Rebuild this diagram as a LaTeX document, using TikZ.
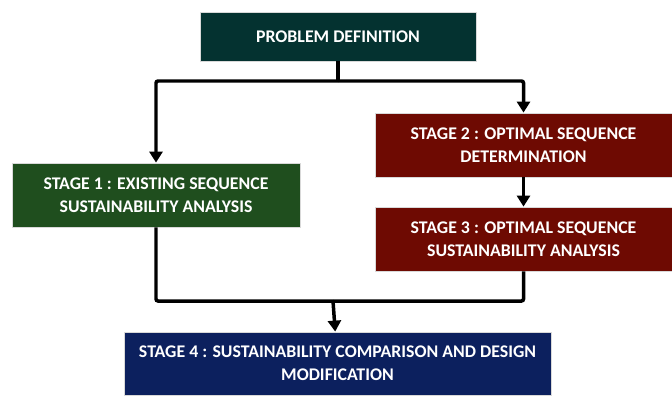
\documentclass[tikz,border=0pt]{standalone}
\usepackage{fontspec}
\setmainfont{Carlito}
\usetikzlibrary{arrows.meta}
\definecolor{probcol}{RGB}{4,50,48}
\definecolor{greencol}{RGB}{31,78,30}
\definecolor{redcol}{RGB}{110,10,2}
\definecolor{bluecol}{RGB}{12,32,94}
\tikzset{
  stagebox/.style={draw=black!15, line width=0.8, text=white, align=center,
    font=\fontsize{17.8bp}{23bp}\selectfont\bfseries, inner sep=0},
  link/.style={line width=3.5, rounded corners=2},
}

\begin{document}
\begin{tikzpicture}[x=1bp,y=-1bp,>={Triangle[length=11bp,width=13bp]}]
\useasboundingbox (0,0) rectangle (672,396);
\node [stagebox, fill=probcol, minimum width=276bp, minimum height=49bp] (prob) at (338,36.5) {PROBLEM DEFINITION};
\node [stagebox, fill=greencol, minimum width=288bp, minimum height=64bp] (stageone) at (156,195) {STAGE 1 : EXISTING SEQUENCE\\SUSTAINABILITY ANALYSIS};
\node [stagebox, fill=redcol, minimum width=297bp, minimum height=64bp] (stagetwo) at (523.5,145) {STAGE 2 : OPTIMAL SEQUENCE\\DETERMINATION};
\node [stagebox, fill=redcol, minimum width=297bp, minimum height=64bp] (stagethree) at (523.5,239) {STAGE 3 : OPTIMAL SEQUENCE\\SUSTAINABILITY ANALYSIS};
\node [stagebox, fill=bluecol, minimum width=427bp, minimum height=63bp] (stagefour) at (337.5,363.5) {STAGE 4 : SUSTAINABILITY COMPARISON AND DESIGN\\MODIFICATION};
\coordinate (split) at (338,81);
\coordinate (merge) at (333,301);
\draw [link] (prob) -- (split);
\draw [link,->] (split) -| (stageone);
\draw [link,->] (split) -| (stagetwo);
\draw [link,->] (stagetwo) -- (stagethree);
\draw [link] (stageone) |- (merge);
\draw [link] (stagethree) |- (merge);
\draw [link,->] (merge) -- (stagefour);
\end{tikzpicture}
\end{document}
